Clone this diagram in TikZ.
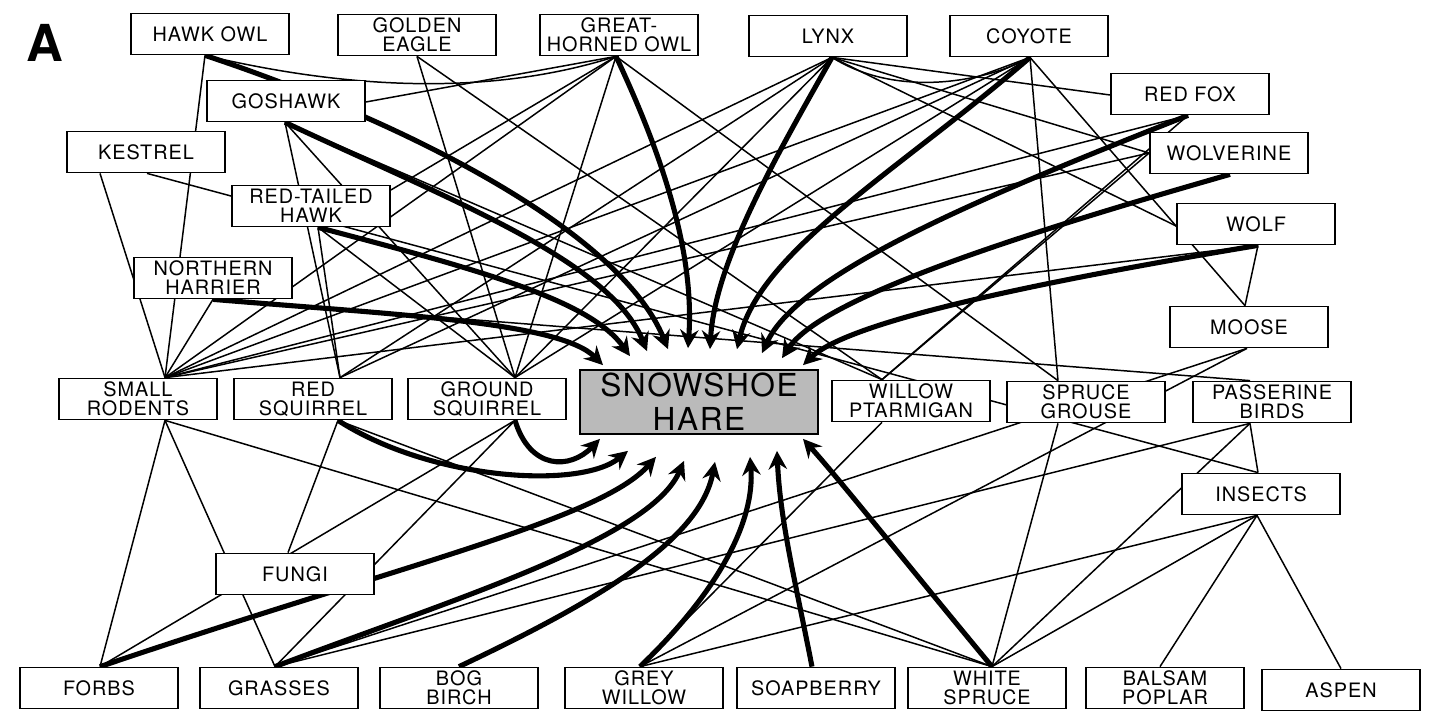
\documentclass[tikz,border=0pt]{standalone}
\usepackage{fontspec}
\setmainfont{TeX Gyre Heros}
\newfontfamily\boxfont{TeX Gyre Heros}[LetterSpace=5]
\usetikzlibrary{arrows.meta,calc,backgrounds}
\begin{document}
\begin{tikzpicture}[x=0.02cm,y=-0.02cm,
  box/.style={draw,line width=1pt,fill=white,minimum width=3.16cm,minimum height=0.82cm,inner sep=0pt,align=center,font=\boxfont\fontsize{11.3}{10.9}\selectfont},
  harebox/.style={box,fill=black!27,minimum width=4.76cm,minimum height=1.28cm,font=\boxfont\fontsize{18}{19.5}\selectfont},
  web/.style={line width=0.85pt},
  eat/.style={line width=2.9pt,-{Stealth[length=10.5pt,width=10.5pt,inset=3.5pt]}},
]
\useasboundingbox (0,0) rectangle (1438,720);
\node[font=\bfseries\fontsize{29}{29}\selectfont] (labelA) at (45,43) {A};
% boxes
\node[box] (hawkowl) at (210,34) {HAWK OWL};
\node[box] (goldeneagle) at (417,35) {GOLDEN\\EAGLE};
\node[box] (gho) at (619,35) {GREAT-\\HORNED OWL};
\node[box] (lynx) at (828,36) {LYNX};
\node[box] (coyote) at (1029,36) {COYOTE};
\node[box] (redfox) at (1190,94) {RED FOX};
\node[box] (goshawk) at (286,101) {GOSHAWK};
\node[box] (kestrel) at (146,152) {KESTREL};
\node[box] (wolverine) at (1229,153) {WOLVERINE};
\node[box] (rthawk) at (311,206) {RED-TAILED\\HAWK};
\node[box] (wolf) at (1256,224) {WOLF};
\node[box] (harrier) at (213,278) {NORTHERN\\HARRIER};
\node[box] (moose) at (1249,327) {MOOSE};
\node[box] (smallrodents) at (138,399) {SMALL\\RODENTS};
\node[box] (redsquirrel) at (313,399) {RED\\SQUIRREL};
\node[box] (groundsquirrel) at (487,399) {GROUND\\SQUIRREL};
\node[harebox] (hare) at (699,402) {SNOWSHOE\\HARE};
\node[box] (willowpt) at (911,401) {WILLOW\\PTARMIGAN};
\node[box] (sprucegrouse) at (1086,402) {SPRUCE\\GROUSE};
\node[box] (passerine) at (1272,402) {PASSERINE\\BIRDS};
\node[box] (insects) at (1261,494) {INSECTS};
\node[box] (fungi) at (295,574) {FUNGI};
\node[box] (forbs) at (99,688) {FORBS};
\node[box] (grasses) at (279,688) {GRASSES};
\node[box] (bogbirch) at (459,688) {BOG\\BIRCH};
\node[box] (greywillow) at (644,688) {GREY\\WILLOW};
\node[box] (soapberry) at (816,688) {SOAPBERRY};
\node[box] (whitespruce) at (987,688) {WHITE\\SPRUCE};
\node[box] (balsam) at (1165,688) {BALSAM\\POPLAR};
\node[box] (aspen) at (1341,690) {ASPEN};
% attachment points
\path (hawkowl.south) ++(-5,0) coordinate (pHO);
\path (goldeneagle.south) coordinate (pGE);
\path (gho.south) ++(-3,0) coordinate (pGHO);
\path (lynx.south) ++(4,0) coordinate (pLY);
\path (coyote.south) ++(1,0) coordinate (pCO);
\path (redfox.south) ++(-2,0) coordinate (pRF);
\path (redfox.west) ++(0,1) coordinate (pRFl);
\path (goshawk.south) ++(-1,0) coordinate (pGO);
\path (goshawk.east) ++(0,1) coordinate (pGOr);
\path (kestrel.south) ++(-46,0) coordinate (pKEa);
\path (kestrel.south) ++(1,0) coordinate (pKEb);
\path (rthawk.south) ++(7,0) coordinate (pRT);
\path (rthawk.east) ++(0,-16) coordinate (pRTr);
\path (wolverine.south) ++(1,0) coordinate (pWV);
\path (wolverine.west) coordinate (pWVl);
\path (wolf.south) ++(2,0) coordinate (pWO);
\path (wolf.west) ++(0,2) coordinate (pWOl);
\path (harrier.south) coordinate (pHA);
\path (moose.north) ++(-4,0) coordinate (pMOt);
\path (moose.south) ++(-2,0) coordinate (pMOb);
\path (smallrodents.north) ++(27,0) coordinate (pSRt);
\path (smallrodents.south) ++(27,0) coordinate (pSRb);
\path (redsquirrel.north) ++(27,0) coordinate (pRSt);
\path (redsquirrel.south) ++(25,0) coordinate (pRSb);
\path (groundsquirrel.north) ++(28,0) coordinate (pGSt);
\path (groundsquirrel.south) ++(28,0) coordinate (pGSb);
\path (willowpt.north) ++(-29,0) coordinate (pWPt);
\path (willowpt.south) ++(-29,0) coordinate (pWPb);
\path (sprucegrouse.north) ++(-28,0) coordinate (pSGt);
\path (sprucegrouse.south) ++(-28,0) coordinate (pSGb);
\path (passerine.north) ++(-22,0) coordinate (pPBt);
\path (passerine.south) ++(-22,0) coordinate (pPBb);
\path (insects.north) ++(-3,0) coordinate (pINt);
\path (insects.south) ++(-4,0) coordinate (pINb);
\path (fungi.north) ++(-7,0) coordinate (pFUt);
\path (forbs.north) ++(1,0) coordinate (pFO);
\path (grasses.north) ++(-4,0) coordinate (pGR);
\path (bogbirch.north) coordinate (pBB);
\path (greywillow.north) ++(-4,0) coordinate (pGW);
\path (soapberry.north) ++(-4,0) coordinate (pSB);
\path (whitespruce.north) ++(5,0) coordinate (pWS);
\path (balsam.north) ++(-5,0) coordinate (pBP);
\path (aspen.north) coordinate (pAS);
% arrow tips at the hare
\path (hare.north) ++(-96,-4) coordinate (t1);
\path (hare.north) ++(-69,-13) coordinate (t2);
\path (hare.north) ++(-52,-18) coordinate (t3);
\path (hare.north) ++(-31,-20) coordinate (t4);
\path (hare.north) ++(-11,-21) coordinate (t5);
\path (hare.north) ++(11,-20) coordinate (t6);
\path (hare.north) ++(38,-20) coordinate (t7);
\path (hare.north) ++(63,-16) coordinate (t8);
\path (hare.north) ++(83,-11) coordinate (t9);
\path (hare.north) ++(104,-4) coordinate (t10);
\path (hare.south) ++(-99,4) coordinate (b1);
\path (hare.south) ++(-71,16) coordinate (b2);
\path (hare.south) ++(-43,22) coordinate (b3);
\path (hare.south) ++(-15,26) coordinate (b4);
\path (hare.south) ++(16,27) coordinate (b5);
\path (hare.south) ++(51,22) coordinate (b6);
\path (hare.south) ++(78,16) coordinate (b7);
\path (hare.south) ++(104,4) coordinate (b8);
\begin{scope}[on background layer]
% thin links
\draw[web] (pHO) -- (pSRt);
\draw[web] (pGHO) .. controls (480,100) and (330,85) .. (pHO);
\draw[web] (pGHO) -- (pGOr);
\draw[web] (pGHO) -- (pRTr);
\draw[web] (pGHO) -- (pSRt);
\draw[web] (pGHO) -- (pGSt);
\draw[web] (pGHO) -- (pSGt);
\draw[web] (pGE) -- (pGSt);
\draw[web] (pGE) -- (pWPt);
\draw[web] (pGO) -- (pRSt);
\draw[web] (pGO) -- (pGSt);
\draw[web] (pGO) -- (pWPt);
\draw[web] (pKEa) -- (pSRt);
\draw[web] (pKEb) -- (pINt);
\draw[web] (pRT) -- (pRSt);
\draw[web] (pRT) -- (pGSt);
\draw[web] (pHA) -- (pSRt);
\draw[web] (pHA) -- (pPBt);
\draw[web] (pLY) -- (pSRt);
\draw[web] (pLY) -- (pRSt);
\draw[web] (pLY) -- (pGSt);
\draw[web] (pLY) -- (pRFl);
\draw[web] (pLY) -- (pWVl);
\draw[web] (pLY) -- (pWOl);
\draw[web] (pLY) .. controls (900,100) and (990,80) .. (pCO);
\draw[web] (pCO) -- (pSRt);
\draw[web] (pCO) -- (pRSt);
\draw[web] (pCO) -- (pGSt);
\draw[web] (pCO) -- (pSGt);
\draw[web] (pCO) -- (pMOt);
\draw[web] (pRF) -- (pSRt);
\draw[web] (pRF) -- (pWPt);
\draw[web] (pWVl) -- (pWPt);
\draw[web] (pWVl) -- (pSRt);
\draw[web] (pWO) -- (pSRt);
\draw[web] (pWO) -- (pMOt);
\draw[web] (pMOb) -- (pGW);
\draw[web] (pMOb) -- (pGR);
\draw[web] (pSRb) -- (pFO);
\draw[web] (pSRb) -- (pGR);
\draw[web] (pSRb) -- (pWS);
\draw[web] (pRSb) -- (pFUt);
\draw[web] (pRSb) -- (pWS);
\draw[web] (pGSb) -- (pFO);
\draw[web] (pGSb) -- (pGR);
\draw[web] (pWPb) -- (pGW);
\draw[web] (pSGb) -- (pWS);
\draw[web] (pPBb) -- (pWS);
\draw[web] (pPBb) -- (pINt);
\draw[web] (pPBb) -- (pGR);
\draw[web] (pINb) -- (pBP);
\draw[web] (pINb) -- (pAS);
\draw[web] (pINb) -- (pWS);
\draw[web] (pINb) -- (pGW);
% thick links to the hare
\draw[eat] (pHA) .. controls (400,315) and (560,322) .. (t1);
\draw[eat] (pRT) .. controls (480,270) and (590,300) .. (t2);
\draw[eat] (pGO) .. controls (450,200) and (610,260) .. (t3);
\draw[eat] (pHO) .. controls (400,120) and (620,230) .. (t4);
\draw[eat] (pGHO) .. controls (660,150) and (695,250) .. (t5);
\draw[eat] (pLY) .. controls (780,150) and (715,260) .. (t6);
\draw[eat] (pCO) .. controls (900,170) and (760,250) .. (t7);
\draw[eat] (pRF) .. controls (1000,190) and (800,270) .. (t8);
\draw[eat] (pWV) .. controls (1000,240) and (820,300) .. (t9);
\draw[eat] (pWO) .. controls (1050,280) and (850,320) .. (t10);
\draw[eat] (pGSb) .. controls (530,470) and (570,470) .. (b1);
\draw[eat] (pRSb) .. controls (430,480) and (580,490) .. (b2);
\draw[eat] (pFO) .. controls (400,565) and (600,520) .. (b3);
\draw[eat] (pGR) .. controls (450,600) and (650,540) .. (b4);
\draw[eat] (pBB) .. controls (600,600) and (700,540) .. (b5);
\draw[eat] (pGW) .. controls (720,590) and (755,520) .. (b6);
\draw[eat] (pSB) .. controls (795,580) and (780,520) .. (b7);
\draw[eat] (pWS) .. controls (920,580) and (840,480) .. (b8);
\end{scope}
\end{tikzpicture}
\end{document}
